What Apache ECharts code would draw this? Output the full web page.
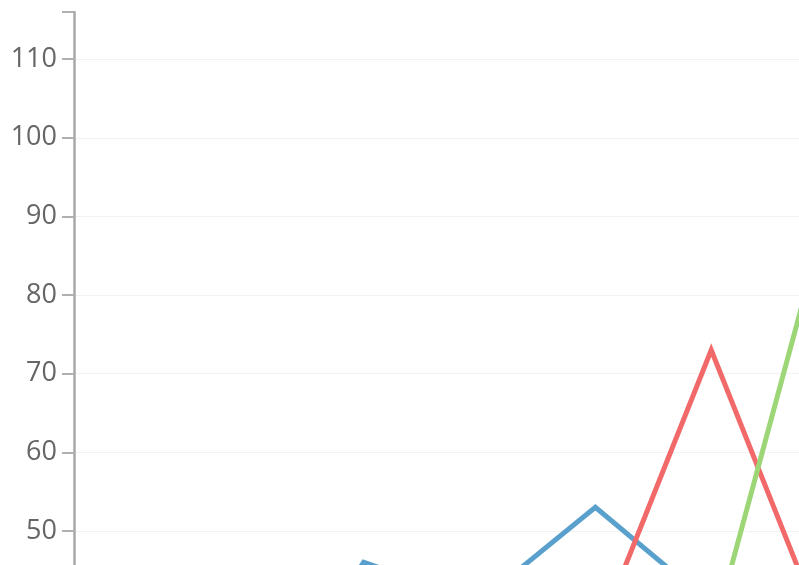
<!DOCTYPE html>
<html>
<head>
<meta charset="utf-8">
<script src="https://cdn.jsdelivr.net/npm/echarts@6/dist/echarts.min.js"></script>
<style>
html,body{margin:0;padding:0;background:#fff;}
#chart{width:799px;height:565px;}
</style>
</head>
<body>
<div id="chart"></div>
<script>
// Data (values read from the visible part of the chart; off-screen points estimated)
var categories = ['1', '2', '3', '4', '5', '6', '7', '8'];
var seriesBlue = [30, 24, 46, 41, 53, 40.7, 36, 34];
var seriesRed = [28, 30, 32, 30, 36, 73, 36, 40];
var seriesGreen = [25, 28, 30, 33, 30, 36, 90.5, 80];
var yTickMin = 0, yTickMax = 116, yTickInterval = 10;

var chart = echarts.init(document.getElementById('chart'), null, {renderer: 'canvas'});
var option = {
  animation: false,
  backgroundColor: '#ffffff',
  grid: {left: 74, top: 12, width: 926.9, height: 912, outerBoundsMode: 'none', containLabel: false},
  xAxis: {
    type: 'category',
    data: categories,
    boundaryGap: true,
    axisLine: {lineStyle: {color: '#aaaaaa', width: 2}},
    axisTick: {show: false},
    axisLabel: {show: false},
    splitLine: {show: false}
  },
  yAxis: {
    type: 'value',
    min: yTickMin,
    max: yTickMax,
    interval: yTickInterval,
    axisLine: {show: true, lineStyle: {color: '#a8a8a8', width: 2.5}},
    axisTick: {show: true, length: 12, lineStyle: {color: '#b0b0b0', width: 2}},
    axisLabel: {
      showMaxLabel: true,
      formatter: function (v) { return v === yTickMax ? '' : String(v); },
      color: '#666666',
      fontSize: 27,
      fontFamily: 'Open Sans',
      margin: 17
    },
    splitLine: {show: true, showMaxLine: false, lineStyle: {color: '#f2f2f2', width: 1}}
  },
  series: [
    {type: 'line', data: seriesBlue, showSymbol: false, symbol: 'none',
     lineStyle: {color: '#5aa0cd', width: 5, join: 'miter'}, itemStyle: {color: '#5aa0cd'}},
    {type: 'line', data: seriesRed, showSymbol: false, symbol: 'none',
     lineStyle: {color: '#f26969', width: 5, join: 'miter'}, itemStyle: {color: '#f26969'}},
    {type: 'line', data: seriesGreen, showSymbol: false, symbol: 'none',
     lineStyle: {color: '#9cd676', width: 5, join: 'miter'}, itemStyle: {color: '#9cd676'}}
  ]
};
chart.setOption(option);
</script>
</body>
</html>
